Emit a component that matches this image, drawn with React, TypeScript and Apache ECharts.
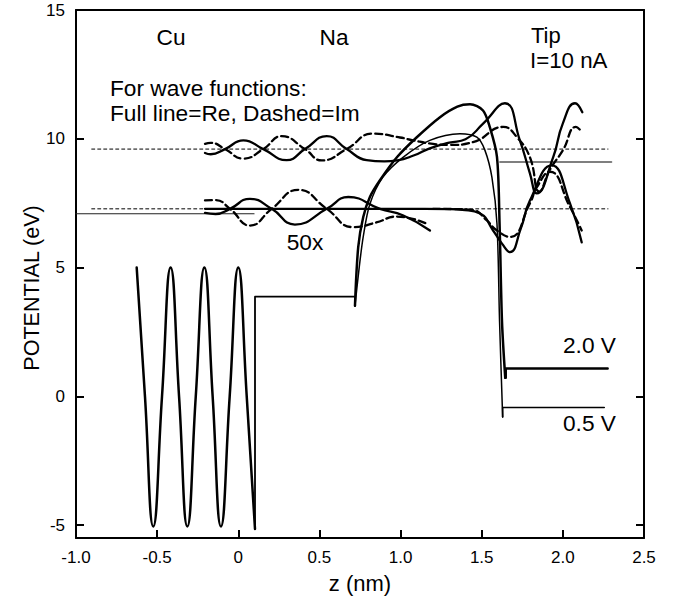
import React, { useEffect, useRef } from "react";
import * as echarts from "echarts";

// ---------- data (z in nm, potential in eV) ----------
const xTickStep = 0.5;
const yTickValues = [-5, 0, 5, 10, 15];
const yRightTickValues = [-5, 0, 5, 10];

// Cu bulk potential oscillation
const cuZ = [-0.626, -0.575, -0.524, -0.47, -0.417, -0.365, -0.314, -0.262, -0.209, -0.158, -0.107, -0.053, 0.0, 0.052, 0.103];
const cuV = [5.0, 0, -5.05, 0, 5.0, 0, -5.05, 0, 5.0, 0, -5.05, 0, 5.0, 0, -5.15];

// Na step
const stepZ = [0.103, 0.103, 0.719, 0.719];
const stepV = [-5.15, 3.87, 3.87, 3.52];

// Vacuum barrier, 2.0 V (thick)
const thickZ = [0.719, 0.739, 0.77, 0.811, 0.873, 0.98, 1.1, 1.243, 1.35, 1.428, 1.508, 1.55, 1.594, 1.61, 1.625, 1.645];
const thickV = [3.52, 5.79, 6.96, 7.74, 8.39, 9.3, 10.06, 10.84, 11.25, 11.34, 11.1, 10.45, 9.3, 6.7, 2.9, 0.72];
const tip20Z = [1.648, 1.648, 2.276];
const tip20V = [0.72, 1.08, 1.08];

// Vacuum barrier, 0.5 V (thin)
const thinZ = [0.719, 0.745, 0.77, 0.81, 0.89, 1.015, 1.18, 1.366, 1.47, 1.52, 1.563, 1.594, 1.61, 1.629];
const thinV = [3.52, 5.0, 6.2, 7.45, 8.5, 9.28, 9.94, 10.2, 10.06, 9.55, 8.5, 6.7, 2.9, -0.8];
const tip05Z = [1.629, 1.629, 2.255];
const tip05V = [-0.8, -0.436, -0.436];

// Fermi / energy levels
const fermiCuZ = [-1.0, 0.097];
const fermiCuV = [7.09, 7.09];
const fermiTipZ = [1.612, 2.3];
const fermiTipV = [9.1, 9.1];
const levelUpZ = [-0.903, 2.278];
const levelUpV = [9.6, 9.6];
const levelLoZ = [-0.903, 2.278];
const levelLoV = [7.28, 7.28];

// Wave functions (50x), upper level
const reUpZ = [-0.205, -0.17, -0.082, 0.031, 0.154, 0.298, 0.411, 0.545, 0.668, 0.791, 0.9, 0.98, 1.08, 1.18, 1.3, 1.4, 1.51, 1.643, 1.735, 1.797, 1.839, 1.94, 2.0, 2.075, 2.12];
const reUpV = [9.45, 9.4, 9.6, 9.94, 9.6, 9.17, 9.6, 10.1, 9.6, 9.17, 9.12, 9.16, 9.35, 9.63, 9.85, 9.98, 10.6, 11.38, 9.94, 8.66, 7.88, 9.28, 10.6, 11.38, 11.03];
const imUpZ = [-0.205, -0.17, -0.082, 0.031, 0.154, 0.267, 0.411, 0.514, 0.668, 0.83, 0.996, 1.076, 1.2, 1.3, 1.446, 1.633, 1.717, 1.797, 1.855, 1.92, 2.0, 2.08, 2.116];
const imUpV = [9.8, 9.84, 9.6, 9.23, 9.6, 10.1, 9.6, 9.16, 9.6, 10.2, 10.05, 9.94, 9.8, 9.76, 9.87, 10.46, 10.06, 9.28, 7.95, 8.8, 9.55, 10.46, 10.27];

// Wave functions (50x), lower level
const reLoZ = [-0.205, -0.14, -0.051, 0.072, 0.206, 0.349, 0.545, 0.678, 0.873, 1.017, 1.181];
const reLoV = [7.12, 7.08, 7.28, 7.67, 7.28, 6.67, 7.28, 7.74, 7.28, 7.02, 6.44];
const imLoZ = [-0.205, -0.14, -0.051, 0.072, 0.206, 0.37, 0.545, 0.709, 0.85, 0.976, 1.161];
const imLoV = [7.61, 7.62, 7.28, 6.63, 7.28, 8.02, 7.28, 6.57, 6.75, 6.98, 6.7];
const reTipZ = [-0.205, 0.5, 1.0, 1.3, 1.38, 1.49, 1.57, 1.625, 1.674, 1.74, 1.797, 1.931, 2.044, 2.116];
const reTipV = [7.28, 7.28, 7.28, 7.27, 7.24, 7.1, 6.44, 5.93, 5.6, 6.5, 7.6, 8.97, 7.49, 5.98];
const imTipZ = [1.2, 1.35, 1.448, 1.53, 1.592, 1.674, 1.797, 1.84, 1.92, 2.044, 2.116];
const imTipV = [7.28, 7.27, 7.23, 6.84, 6.45, 6.19, 7.49, 8.12, 8.72, 7.35, 6.44];

const annotations = ["Cu", "Na", "Tip", "I=10 nA", "For wave functions:", "Full line=Re, Dashed=Im", "50x", "2.0 V", "0.5 V"];
const xAxisTitle = "z (nm)";
const yAxisTitle = "POTENTIAL (eV)";

// ---------- chart ----------
const FONT = '"Liberation Sans", Arial, Helvetica, sans-serif';

const pairs = (zs: number[], vs: number[]) => zs.map((z, i) => [z, vs[i]]);

function lineSeries(name: string, zs: number[], vs: number[], o: any) {
  return {
    type: "line",
    name,
    data: pairs(zs, vs),
    symbol: "none",
    showSymbol: false,
    smooth: o.smooth ?? false,
    silent: true,
    z: o.z ?? 2,
    lineStyle: {
      color: o.color ?? "#000",
      width: o.width ?? 2,
      type: o.dash ?? "solid",
      cap: "round",
      join: "round",
    },
  };
}

function text(str: string, x: number, y: number, align: string, extra: any = {}) {
  const fs = extra.fontSize ?? 22.7;
  const { fontSize, ...rest } = extra;
  return {
    type: "text",
    x,
    y,
    silent: true,
    ...rest,
    style: {
      text: str,
      fill: "#000",
      font: `${fs}px ${FONT}`,
      fontSize: fs,
      fontFamily: FONT,
      lineHeight: fs,
      align,
      textAlign: align,
      verticalAlign: "middle",
      textVerticalAlign: "middle",
    },
  };
}

const axisLine = { show: true, onZero: false, lineStyle: { color: "#000", width: 2 } };

const option: any = {
  animation: false,
  backgroundColor: "#fff",
  grid: { left: 76, right: 37, top: 10, bottom: 63, containLabel: false },
  xAxis: [
    {
      type: "value",
      min: -1,
      max: 2.5,
      interval: xTickStep,
      position: "bottom",
      axisLine,
      axisTick: { show: true, inside: true, length: 8, lineStyle: { color: "#000", width: 2 } },
      axisLabel: {
        show: true,
        margin: 11,
        color: "#000",
        fontSize: 17,
        fontFamily: FONT,
        showMinLabel: true,
        showMaxLabel: true,
        formatter: (v: number) => (Math.abs(v) < 1e-9 ? "0" : v.toFixed(1)),
      },
      splitLine: { show: false },
    },
    {
      type: "value",
      min: -1,
      max: 2.5,
      interval: xTickStep,
      position: "top",
      axisLine,
      axisTick: { show: false },
      axisLabel: { show: false },
      splitLine: { show: false },
    },
  ],
  yAxis: [
    {
      type: "value",
      min: -5.5,
      max: 15,
      position: "left",
      axisLine,
      axisTick: { show: true, inside: true, length: 8, customValues: yTickValues, lineStyle: { color: "#000", width: 2 } },
      axisLabel: {
        show: true,
        margin: 11,
        color: "#000",
        fontSize: 17,
        fontFamily: FONT,
        customValues: yTickValues,
        formatter: (v: number) => String(v),
      },
      splitLine: { show: false },
    },
    {
      type: "value",
      min: -5.5,
      max: 15,
      position: "right",
      axisLine,
      axisTick: { show: true, inside: true, length: 8, customValues: yRightTickValues, lineStyle: { color: "#000", width: 2 } },
      axisLabel: { show: false },
      splitLine: { show: false },
    },
  ],
  series: [
    lineSeries("levelUp", levelUpZ, levelUpV, { width: 1, dash: [3, 3], z: 1 }),
    lineSeries("levelLo", levelLoZ, levelLoV, { width: 1, dash: [3, 3], z: 1 }),
    lineSeries("fermiCu", fermiCuZ, fermiCuV, { width: 1.2, color: "#222", z: 1 }),
    lineSeries("fermiTip", fermiTipZ, fermiTipV, { width: 1.6, color: "#555", z: 1 }),
    lineSeries("Cu", cuZ, cuV, { smooth: 0.5, width: 2.5 }),
    lineSeries("step", stepZ, stepV, { width: 1.8 }),
    lineSeries("barrier 2.0 V", thickZ, thickV, { smooth: 0.3, width: 2.5 }),
    lineSeries("tip 2.0 V", tip20Z, tip20V, { width: 2.5 }),
    lineSeries("barrier 0.5 V", thinZ, thinV, { smooth: 0.3, width: 1.5 }),
    lineSeries("tip 0.5 V", tip05Z, tip05V, { width: 1.6 }),
    lineSeries("Re upper", reUpZ, reUpV, { smooth: 0.5, width: 2.3, z: 3 }),
    lineSeries("Im upper", imUpZ, imUpV, { smooth: 0.5, width: 2.3, dash: [7, 4], z: 3 }),
    lineSeries("Re lower", reLoZ, reLoV, { smooth: 0.5, width: 2.3, z: 3 }),
    lineSeries("Im lower", imLoZ, imLoV, { smooth: 0.5, width: 2.3, dash: [7, 4], z: 3 }),
    lineSeries("Re tip", reTipZ, reTipV, { smooth: 0.5, width: 2.3, z: 3 }),
    lineSeries("Im tip", imTipZ, imTipV, { smooth: 0.5, width: 2.3, dash: [7, 4], z: 3 }),
  ],
  graphic: [
    text(annotations[0], 171, 37, "center"),
    text(annotations[1], 334, 37, "center"),
    text(annotations[2], 531, 35.5, "left", { fontSize: 22 }),
    text(annotations[3], 530, 60.5, "left", { fontSize: 22.3 }),
    text(annotations[4], 110, 88, "left"),
    text(annotations[5], 110, 112.5, "left"),
    text(annotations[6], 305, 242, "center"),
    text(annotations[7], 563, 345, "left"),
    text(annotations[8], 563, 422.5, "left"),
    text(xAxisTitle, 360, 583, "center", { fontSize: 22 }),
    text(yAxisTitle, 32, 288, "center", { rotation: Math.PI / 2, fontSize: 21.5 }),
  ],
};

export default function App() {
  const ref = useRef<HTMLDivElement>(null);
  useEffect(() => {
    if (!ref.current) return;
    const chart = echarts.init(ref.current, null, { renderer: "svg" });
    chart.setOption(option);
    return () => chart.dispose();
  }, []);
  return (
    <div
      ref={ref}
      style={{ position: "fixed", left: 0, top: 0, width: 681, height: 601, background: "#fff" }}
    />
  );
}
